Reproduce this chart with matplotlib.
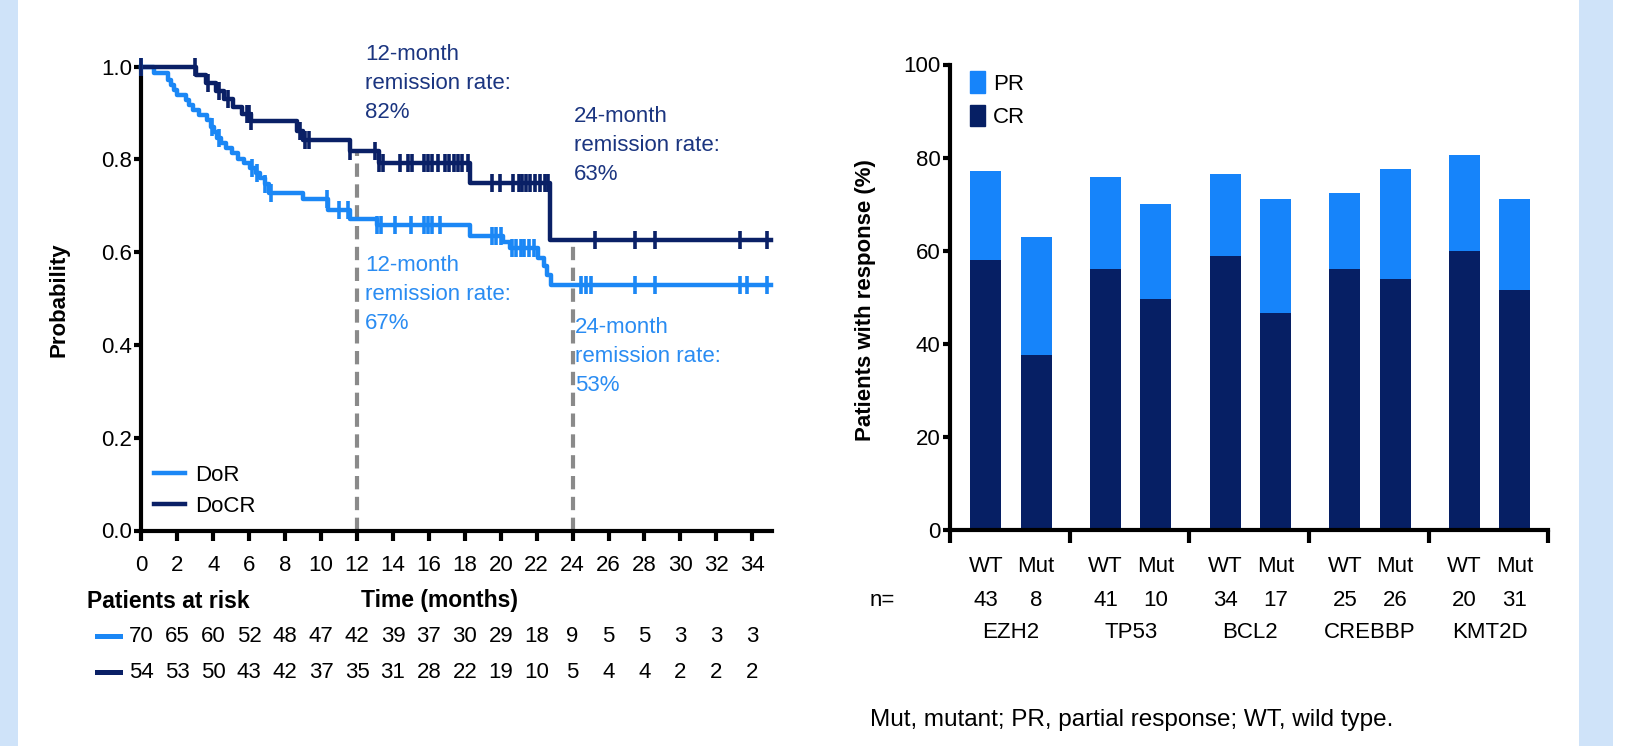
import matplotlib.pyplot as plt
import matplotlib.transforms as mtransforms
from matplotlib.lines import Line2D
from matplotlib.patches import Patch, Rectangle
import numpy as np

plt.rcParams['font.family'] = ['Liberation Sans', 'DejaVu Sans']

# ---- Kaplan-Meier data ----
dor_t = [0, 0.7, 1.5, 1.65, 1.8, 2.0, 2.45, 2.65, 2.85, 3.2, 3.65, 3.85, 4.05, 4.2, 4.4,
         4.7, 5.05, 5.35, 5.7, 6.05, 6.35, 6.6, 6.85, 7.1, 9.0, 10.4, 11.6, 13.1, 18.3,
         20.1, 20.5, 22.1, 22.4, 22.6, 22.8, 35.05]
dor_p = [1.0, 0.986, 0.972, 0.961, 0.950, 0.939, 0.928, 0.917, 0.906, 0.896, 0.885, 0.871,
         0.860, 0.846, 0.835, 0.824, 0.813, 0.802, 0.792, 0.781, 0.770, 0.759, 0.748, 0.727,
         0.714, 0.690, 0.672, 0.658, 0.636, 0.621, 0.609, 0.588, 0.571, 0.551, 0.529, 0.529]
dor_cens = [0, 3.9, 4.3, 6.15, 6.45, 6.9, 7.2, 10.3, 11.0, 11.5, 13.1, 13.35, 14.1, 15.0,
            15.75, 15.95, 16.15, 16.6, 19.5, 19.75, 20.0, 20.6, 20.85, 21.1, 21.3, 21.6, 21.85,
            24.45, 24.75, 25.05, 27.5, 28.6, 33.3, 33.7, 34.8]

docr_t = [0, 3.05, 3.6, 4.15, 4.6, 5.1, 5.6, 6.1, 8.65, 9.0, 11.6, 13.2, 18.3, 22.75, 35.05]
docr_p = [1.0, 0.982, 0.965, 0.948, 0.931, 0.914, 0.897, 0.883, 0.862, 0.842, 0.819, 0.792,
          0.750, 0.627, 0.627]
docr_cens = [0, 2.98, 3.7, 4.3, 4.8, 5.9, 6.0, 6.1, 8.8, 9.1, 9.3, 11.6, 13.0, 13.2, 13.45,
             14.4, 14.85, 15.05, 15.7, 15.97, 16.2, 16.5, 16.9, 17.1, 17.4, 17.6, 17.85,
             18.2, 19.5, 19.96, 20.7, 21.0, 21.2, 21.4, 21.65, 21.9, 22.2, 22.45, 22.65,
             25.25, 27.5, 28.6, 33.3, 34.8]

risk_times = list(range(0, 35, 2))
risk_dor = [70, 65, 60, 52, 48, 47, 42, 39, 37, 30, 29, 18, 9, 5, 5, 3, 3, 3]
risk_docr = [54, 53, 50, 43, 42, 37, 35, 31, 28, 22, 19, 10, 5, 4, 4, 2, 2, 2]

landmark_x = [12, 24]
landmark_top = [0.82, 0.63]

# ---- response by mutation status ----
genes = ['EZH2', 'TP53', 'BCL2', 'CREBBP', 'KMT2D']
n_wt = [43, 41, 34, 25, 20]
n_mut = [8, 10, 17, 26, 31]
cr_wt = [58.1, 56.1, 58.8, 56.0, 60.0]
orr_wt = [77.2, 75.9, 76.5, 72.5, 80.5]
cr_mut = [37.5, 49.6, 46.7, 54.0, 51.6]
orr_mut = [63.0, 70.0, 71.0, 77.5, 71.2]
pr_wt = [o - c for o, c in zip(orr_wt, cr_wt)]
pr_mut = [o - c for o, c in zip(orr_mut, cr_mut)]

LIGHT = '#1B87F5'
DARK = '#0A2066'
BAR_LIGHT = '#1684FA'
BAR_DARK = '#061F64'
TXT_DARK = '#1B3580'
TXT_LIGHT = '#2A8CF2'
GRAY = '#8A8A8A'
FS = 16

W, H = 1631, 746
fig = plt.figure(figsize=(W / 100, H / 100), dpi=100)


def box(x0, y0, x1, y1):
    return [x0 / W, 1 - y1 / H, (x1 - x0) / W, (y1 - y0) / H]


fig.add_artist(Rectangle((0, 0), 18 / W, 1, transform=fig.transFigure, color='#CFE3F9', lw=0))
fig.add_artist(Rectangle((1579 / W, 0), 34 / W, 1, transform=fig.transFigure, color='#CFE3F9', lw=0))


def style_axes(ax):
    for s in ['top', 'right']:
        ax.spines[s].set_visible(False)
    for s in ['left', 'bottom']:
        ax.spines[s].set_linewidth(3.0)
    ax.tick_params(direction='out', width=3.0, labelsize=FS)
    ax.tick_params(axis='y', length=5, pad=2)


# ---- left: KM curves ----
ax1 = fig.add_axes(box(141.5, 66.7, 772, 530.5))
style_axes(ax1)
ax1.tick_params(axis='x', length=7.5, pad=10)
ax1.set_xlim(0, 35.1)
ax1.set_ylim(0, 1.0)
ax1.set_xticks(risk_times)
ax1.set_yticks([0, 0.2, 0.4, 0.6, 0.8, 1.0])
ax1.set_yticklabels(['0.0', '0.2', '0.4', '0.6', '0.8', '1.0'])

ax1.vlines(landmark_x, 0, landmark_top, colors=GRAY, linestyles=(0, (3.2, 1.8)), lw=3.0, zorder=1)

for t, p, cens, col, lab in [(dor_t, dor_p, dor_cens, LIGHT, 'DoR'),
                             (docr_t, docr_p, docr_cens, DARK, 'DoCR')]:
    ax1.step(t, p, where='post', color=col, lw=3.2, clip_on=False, zorder=3, label=lab)
    idx = np.searchsorted(t, cens, side='right') - 1
    ax1.plot(cens, np.array(p)[idx], ls='none', marker='|', ms=13, mew=2.6,
             color=col, clip_on=False, zorder=4)

ax1.legend(loc='center left', bbox_to_anchor=(0.02, 0.085), frameon=False, fontsize=FS,
           handlelength=1.4, handletextpad=0.45, labelspacing=0.45, borderpad=0, borderaxespad=0)

notes = [(365, 44, '12-month\nremission rate:\n82%', TXT_DARK),
         (574, 106, '24-month\nremission rate:\n63%', TXT_DARK),
         (365, 255, '12-month\nremission rate:\n67%', TXT_LIGHT),
         (575, 317, '24-month\nremission rate:\n53%', TXT_LIGHT)]
for xp, yp, s, c in notes:
    fig.text(xp / W, 1 - yp / H, s, color=c, fontsize=FS, va='top', ha='left', linespacing=1.5)

fig.text(59 / W, 1 - 300 / H, 'Probability', rotation=90, ha='center', va='center',
         fontsize=FS, fontweight='bold')
fig.text(87 / W, 1 - 601 / H, 'Patients at risk', ha='left', va='center',
         fontsize=16.5, fontweight='bold')
fig.text(440 / W, 1 - 601 / H, 'Time (months)', ha='center', va='center',
         fontsize=16.5, fontweight='bold')

tr1 = mtransforms.blended_transform_factory(ax1.transData, fig.transFigure)
for row, col, yp in [(risk_dor, LIGHT, 636), (risk_docr, DARK, 672)]:
    fig.add_artist(Line2D([97 / W, 120 / W], [1 - yp / H, 1 - yp / H], color=col, lw=3.6,
                          transform=fig.transFigure))
    for t, v in zip(risk_times, row):
        ax1.text(t, 1 - yp / H, str(v), transform=tr1, ha='center', va='center', fontsize=FS)

# ---- right: stacked bars ----
ax2 = fig.add_axes(box(950, 64.5, 1548.3, 530))
style_axes(ax2)
ax2.tick_params(axis='x', length=9)
ax2.set_xlim(0, 5)
ax2.set_ylim(0, 100)
ax2.set_yticks(range(0, 101, 20))
ax2.set_xticks(range(0, 6))
ax2.set_xticklabels([])

pos = np.arange(len(genes))
x_wt = pos + 0.30
x_mut = pos + 0.72
bw = 0.26
ax2.bar(x_wt, cr_wt, bw, color=BAR_DARK)
ax2.bar(x_wt, pr_wt, bw, bottom=cr_wt, color=BAR_LIGHT)
ax2.bar(x_mut, cr_mut, bw, color=BAR_DARK)
ax2.bar(x_mut, pr_mut, bw, bottom=cr_mut, color=BAR_LIGHT)

ax2.legend(handles=[Patch(color=BAR_LIGHT, label='PR'), Patch(color=BAR_DARK, label='CR')],
           loc='upper left', bbox_to_anchor=(0.033, 0.985), frameon=False, fontsize=FS,
           handlelength=0.68, handleheight=1.1, handletextpad=0.35, labelspacing=0.45,
           borderpad=0, borderaxespad=0)

fig.text(866 / W, 1 - 300 / H, 'Patients with response (%)', rotation=90, ha='center',
         va='center', fontsize=FS, fontweight='bold')

tr2 = mtransforms.blended_transform_factory(ax2.transData, fig.transFigure)
for i in range(len(genes)):
    ax2.text(x_wt[i], 1 - 567 / H, 'WT', transform=tr2, ha='center', va='center', fontsize=FS)
    ax2.text(x_mut[i], 1 - 567 / H, 'Mut', transform=tr2, ha='center', va='center', fontsize=FS)
    ax2.text(x_wt[i], 1 - 601 / H, str(n_wt[i]), transform=tr2, ha='center', va='center', fontsize=FS)
    ax2.text(x_mut[i], 1 - 601 / H, str(n_mut[i]), transform=tr2, ha='center', va='center', fontsize=FS)
    ax2.text((x_wt[i] + x_mut[i]) / 2, 1 - 633 / H, genes[i], transform=tr2, ha='center',
             va='center', fontsize=FS)
fig.text(882 / W, 1 - 601 / H, 'n=', ha='center', va='center', fontsize=FS)
fig.text(870 / W, 1 - 720 / H, 'Mut, mutant; PR, partial response; WT, wild type.',
         ha='left', va='center', fontsize=17.5)

fig.savefig('out.png', dpi=100)
